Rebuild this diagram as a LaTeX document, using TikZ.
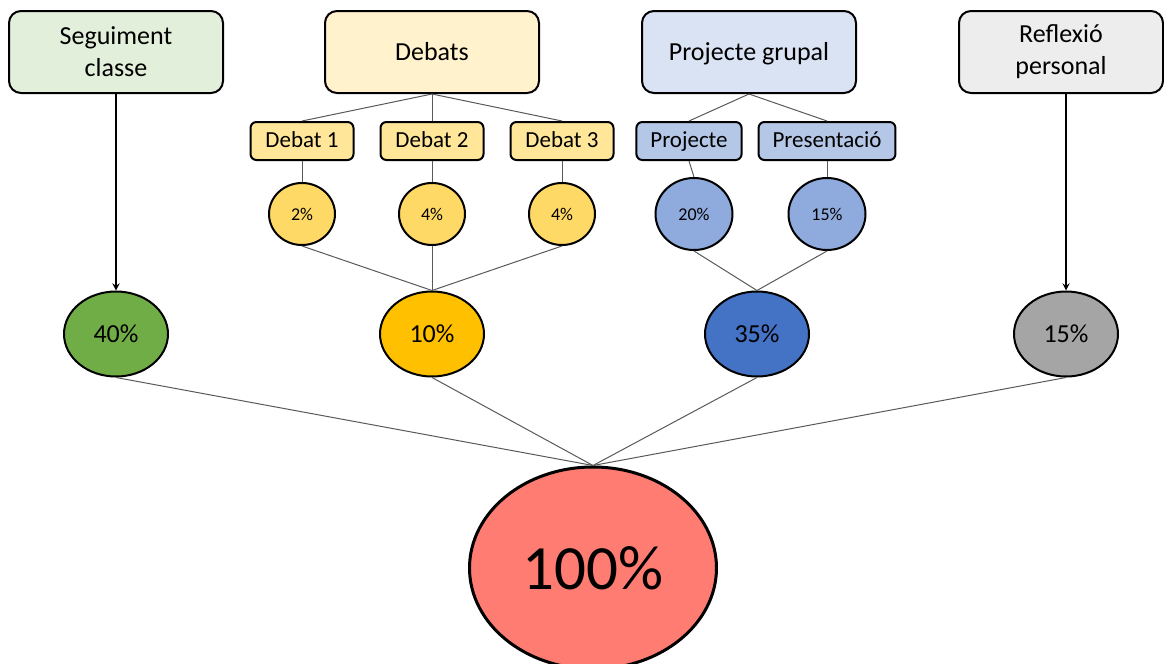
\documentclass[tikz,border=0pt]{standalone}
\usepackage{fontspec}
\setmainfont{Carlito}
\usetikzlibrary{shapes.geometric,arrows}
\definecolor{segFill}{HTML}{E2EFDA}
\definecolor{debFill}{HTML}{FFF2CC}
\definecolor{proFill}{HTML}{DAE3F3}
\definecolor{refFill}{HTML}{EDEDED}
\definecolor{debSub}{HTML}{FFE699}
\definecolor{proSub}{HTML}{B4C7E7}
\definecolor{debDot}{HTML}{FFD966}
\definecolor{proDot}{HTML}{8FAADC}
\definecolor{segPct}{HTML}{70AD47}
\definecolor{debPct}{HTML}{FFC000}
\definecolor{proPct}{HTML}{4472C4}
\definecolor{refPct}{HTML}{A5A5A5}
\definecolor{totPct}{HTML}{FF7C72}
\tikzstyle{mainbox} = [rectangle, rounded corners = 6pt, minimum width = 107pt, minimum height = 41pt, text centered, align = center, draw = black, line width = 1pt, font = \fontsize{13}{16}\selectfont]
\tikzstyle{subbox} = [rectangle, rounded corners = 3pt, minimum width = 51.5pt, minimum height = 19pt, inner xsep = 7pt, text height = 8.5pt, text depth = 2.5pt, text centered, draw = black, line width = 1pt, font = \fontsize{11.5}{13}\selectfont]
\tikzstyle{pctsmall} = [ellipse, minimum width = 33pt, minimum height = 31pt, inner sep = 0pt, draw = black, line width = 1pt, font = \fontsize{9}{10}\selectfont]
\tikzstyle{pctmid} = [ellipse, minimum width = 52pt, minimum height = 42.5pt, inner sep = 0pt, draw = black, line width = 1pt, font = \fontsize{13}{15}\selectfont]
\tikzstyle{pcttotal} = [ellipse, minimum width = 123.5pt, minimum height = 101pt, inner sep = 0pt, draw = black, line width = 1.5pt, font = \fontsize{31.5}{34}\selectfont]
\tikzstyle{link} = [line width = 0.5pt, draw = black!65]
\tikzstyle{arrow} = [line width = 0.6pt, ->, >=stealth]

\begin{document}
\begin{tikzpicture}[x = 0.5pt, y = -0.5pt, node distance = 36.5pt]
\useasboundingbox (0,0) rectangle (1164,664);

\node(seguiment) [mainbox, fill = segFill] at (116,52) {Seguiment\\classe};
\node(debats)    [mainbox, fill = debFill] at (432,52) {Debats};
\node(grupal)    [mainbox, fill = proFill, text depth = 1pt] at (749,52) {Projecte grupal};
\node(reflexio)  [mainbox, fill = refFill, minimum width = 102pt] at (1061,52) {Reflexió\\personal};

\node(debatOne)   [subbox, fill = debSub] at (302,141) {Debat 1};
\node(debatTwo)   [subbox, fill = debSub] at (432,141) {Debat 2};
\node(debatThree) [subbox, fill = debSub] at (562,141) {Debat 3};
\node(projecte)   [subbox, fill = proSub] at (689,141) {Projecte};
\node(presentacio)[subbox, fill = proSub] at (827,141) {Presentació};

\node(dotOne)   [pctsmall, fill = debDot, below of = debatOne] {2\%};
\node(dotTwo)   [pctsmall, fill = debDot, below of = debatTwo] {4\%};
\node(dotThree) [pctsmall, fill = debDot, below of = debatThree] {4\%};
\node(dotProj)  [pctsmall, fill = proDot, below of = projecte, xshift = 2.5pt, minimum width = 38.5pt, minimum height = 36pt] {20\%};
\node(dotPres)  [pctsmall, fill = proDot, below of = presentacio, minimum width = 38.5pt, minimum height = 36pt] {15\%};

\node(pctSeg) [pctmid, fill = segPct] at (116,334) {40\%};
\node(pctDeb) [pctmid, fill = debPct] at (432,334) {10\%};
\node(pctPro) [pctmid, fill = proPct] at (757,334) {35\%};
\node(pctRef) [pctmid, fill = refPct] at (1066,334) {15\%};

\node(total) [pcttotal, fill = totPct] at (593,568) {100\%};

\draw [link] (debats.south) -- (debatOne.north);
\draw [link] (debats.south) -- (debatTwo.north);
\draw [link] (debats.south) -- (debatThree.north);
\draw [link] (grupal.south) -- (projecte.north);
\draw [link] (grupal.south) -- (presentacio.north);
\draw [link] (debatOne) -- (dotOne);
\draw [link] (debatTwo) -- (dotTwo);
\draw [link] (debatThree) -- (dotThree);
\draw [link] (projecte.south) -- (dotProj.north);
\draw [link] (presentacio) -- (dotPres);
\draw [link] (dotOne.south) -- (pctDeb.north);
\draw [link] (dotTwo.south) -- (pctDeb.north);
\draw [link] (dotThree.south) -- (pctDeb.north);
\draw [link] (dotProj.south) -- (pctPro.north);
\draw [link] (dotPres.south) -- (pctPro.north);
\draw [arrow] (seguiment.south) -- (pctSeg.north);
\draw [arrow] (reflexio.south -| pctRef.north) -- (pctRef.north);
\draw [link] (pctSeg.south) -- (total.north);
\draw [link] (pctDeb.south) -- (total.north);
\draw [link] (pctPro.south) -- (total.north);
\draw [link] (pctRef.south) -- (total.north);

\end{tikzpicture}
\end{document}
